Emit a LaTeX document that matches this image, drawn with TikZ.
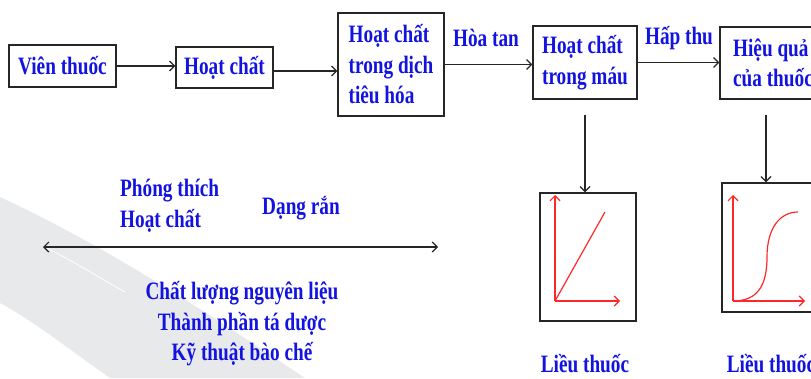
\documentclass[tikz,border=0pt]{standalone}
\usepackage{fontspec}
\setmainfont{Liberation Serif}[FakeStretch=0.77]
\usetikzlibrary{arrows.meta}
\definecolor{txtblue}{RGB}{18,18,225}
\definecolor{curvered}{RGB}{255,40,40}
\definecolor{swoosh}{RGB}{232,233,235}
\tikzset{
  lbl/.style={font=\bfseries\fontsize{25}{30.5}\selectfont, text=txtblue, inner sep=0pt},
  box/.style={lbl, draw=black!85, line width=1.3pt},
  lbox/.style={box, align=left},
  plotbox/.style={draw=black!85, line width=1.3pt, inner sep=0pt},
  flow/.style={line width=1.2pt, draw=black!85, -{Straight Barb[length=5pt,width=10pt]}},
  axis/.style={line width=1.2pt, draw=curvered, -{Straight Barb[length=5pt,width=10pt]}},
  curve/.style={line width=1.2pt, draw=curvered}
}
\begin{document}
\begin{tikzpicture}[x=1pt,y=-1pt]
\useasboundingbox (0,0) rectangle (811,378);
\clip (0,0) rectangle (811,378);

% light grey background band
\fill[swoosh] (0,197) .. controls (110,248) and (215,318) .. (305,378)
  -- (110,378) .. controls (70,350) and (35,322) .. (0,303) -- cycle;
\draw[white, line width=0.8pt] (45,247) .. controls (80,265) and (100,278) .. (125,292);

% process chain
\node[box, minimum width=107pt, minimum height=42pt] (b1) at (62.5,66) {Viên thuốc};
\node[box, minimum width=97pt, minimum height=41pt] (b2) at (224.5,67.5) {Hoạt chất};
\node[lbox, minimum width=106pt, minimum height=103pt] (b3) at (391,64.5) {Hoạt chất\\trong dịch\\tiêu hóa};
\node[lbox, minimum width=104pt, minimum height=73pt] (b4) at (585,62.5) {Hoạt chất\\trong máu};
\node[lbox, minimum width=106pt, minimum height=72pt] (b5) at (773,63) {Hiệu quả\\của thuốc};

\draw[flow] (b1.east) -- (b1.east -| b2.west);
\draw[flow] ([yshift=-3.5pt]b2.east) -- ([yshift=-3.5pt]b2.east -| b3.west);
\draw[flow] (b3.east) -- (b3.east -| b4.west);
\draw[flow] (b4.east) -- (b4.east -| b5.west);

\node[lbl] (l1) at (486,38) {Hòa tan};
\node[lbl] (l2) at (679,38) {Hấp thu};

% dose-response plots
\node[plotbox, minimum width=96pt, minimum height=128pt] (g1) at (588,257) {};
\node[plotbox, minimum width=96pt, minimum height=129pt] (g2) at (770,247.5) {};

\coordinate (v1) at (585,115);
\coordinate (v2) at (766,115);
\draw[flow] (v1) -- (v1 |- g1.north);
\draw[flow] (v2) -- (v2 |- g2.north);

\coordinate (o1) at (555,301);
\draw[axis] (o1) -- (555,195);
\draw[axis] (o1) -- (620,301);
\draw[curve] (o1) -- (605,212);

\coordinate (o2) at (733,301);
\draw[axis] (o2) -- (733,195);
\draw[axis] (o2) -- (805,301);
\draw[curve] (o2) .. controls (758,301) and (767,285) .. (767,257)
  .. controls (767,228) and (780,212) .. (798,212);

\node[lbl] (d1) at (585,364) {Liều thuốc};
\node[lbl] (d2) at (771,364) {Liều thuốc};

% release factors
\coordinate (s1) at (43,247);
\coordinate (s2) at (438,247);
\draw[line width=1.2pt, draw=black!85, {Straight Barb[length=5pt,width=10pt]}-{Straight Barb[length=5pt,width=10pt]}] (s1) -- (s2);

\node[lbl, align=left, anchor=west] (p1) at (120,206) {Phóng thích\\Hoạt chất};
\node[lbl] (p2) at (301,208) {Dạng rắn};
\node[lbl, align=center] (p3) at (242,324) {Chất lượng nguyên liệu\\Thành phần tá dược\\Kỹ thuật bào chế};
\end{tikzpicture}
\end{document}
